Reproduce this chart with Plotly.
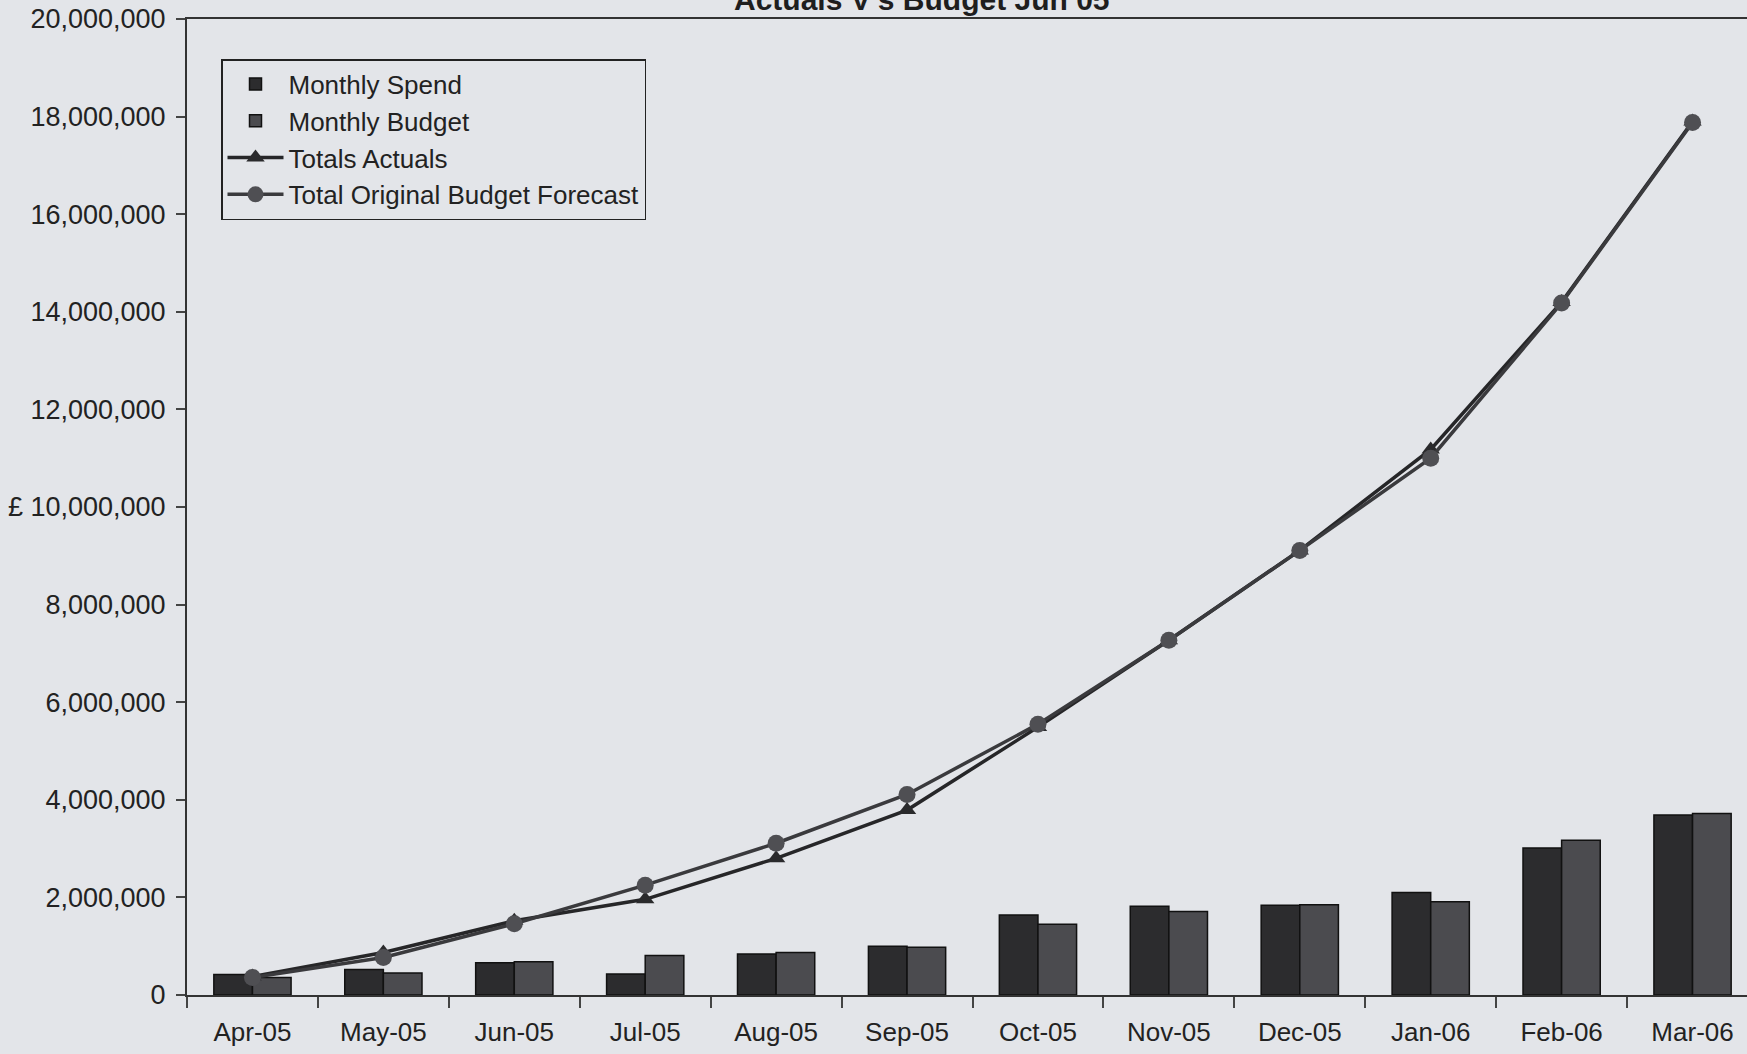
import plotly.graph_objects as go

months = ["Apr-05", "May-05", "Jun-05", "Jul-05", "Aug-05", "Sep-05",
          "Oct-05", "Nov-05", "Dec-05", "Jan-06", "Feb-06", "Mar-06"]

monthly_spend = [420000, 520000, 660000, 430000, 840000, 1000000,
                 1640000, 1820000, 1840000, 2100000, 3010000, 3690000]
monthly_budget = [360000, 450000, 680000, 810000, 870000, 980000,
                  1450000, 1710000, 1850000, 1910000, 3170000, 3720000]
totals_actuals = [380000, 870000, 1520000, 1960000, 2800000, 3790000,
                  5490000, 7270000, 9110000, 11180000, 14200000, 17900000]
total_budget_forecast = [360000, 770000, 1460000, 2250000, 3110000, 4110000,
                         5550000, 7270000, 9110000, 11000000, 14180000, 17880000]

y_tickvals = [0, 2000000, 4000000, 6000000, 8000000, 10000000,
              12000000, 14000000, 16000000, 18000000, 20000000]
y_ticktext = ["0", "2,000,000", "4,000,000", "6,000,000", "8,000,000", "£ 10,000,000",
              "12,000,000", "14,000,000", "16,000,000", "18,000,000", "20,000,000"]

title_text = "Actuals V's Budget Jun 05"

FONT = "Liberation Sans, Arial, sans-serif"
BG = "#e3e5e9"

fig = go.Figure()
fig.add_trace(go.Bar(x=months, y=monthly_spend, name="Monthly Spend", legendgroup="a",
                     marker=dict(color="#2c2c2e", line=dict(color="#111", width=1.5))))
fig.add_trace(go.Bar(x=months, y=monthly_budget, name="Monthly Budget", legendgroup="b",
                     marker=dict(color="#4b4b4f", line=dict(color="#111", width=1.5))))
fig.add_trace(go.Scatter(x=months, y=totals_actuals, name="Totals Actuals", legendgroup="c",
                         mode="lines+markers",
                         line=dict(color="#262628", width=3.5),
                         marker=dict(symbol="triangle-up", size=16, color="#2a2a2c")))
fig.add_trace(go.Scatter(x=months, y=total_budget_forecast, name="Total Original Budget Forecast",
                         legendgroup="d", mode="lines+markers",
                         line=dict(color="#3a3a3d", width=3.5),
                         marker=dict(symbol="circle", size=17, color="#4f4f53")))

fig.add_annotation(text="<b>" + title_text + "</b>", xref="paper", yref="paper",
                   x=(922 - 187) / 1560, y=1 + 19 / 976, xanchor="center", yanchor="middle",
                   showarrow=False, font=dict(family=FONT, size=30, color="#1e1e1e"))

fig.update_layout(
    width=1747, height=1054,
    margin=dict(l=187, r=0, t=19, b=59),
    paper_bgcolor=BG, plot_bgcolor=BG,
    font=dict(family=FONT, size=26, color="#222"),
    barmode="group", bargap=0.41, bargroupgap=0,
    showlegend=True,
    legend=dict(x=(221 - 187) / 1560, y=(995 - 59) / 976, xanchor="left", yanchor="top",
                bgcolor="rgba(0,0,0,0)", bordercolor="#222", borderwidth=1.5,
                font=dict(family=FONT, size=26, color="#222"),
                tracegroupgap=2, itemwidth=56, traceorder="normal"),
    xaxis=dict(range=[-0.5, 11.416], showline=True, linecolor="#333", linewidth=2,
               mirror=True, ticks="outside", ticklen=11, tickcolor="#444", tickwidth=1.5,
               tickson="boundaries", showgrid=False, zeroline=False,
               ticklabelstandoff=13,
               tickfont=dict(family=FONT, size=26, color="#222")),
    yaxis=dict(range=[0, 20000000], tickvals=y_tickvals, ticktext=y_ticktext,
               showline=True, linecolor="#333", linewidth=2, ticks="outside",
               ticklen=9, tickcolor="#444", tickwidth=1.5, showgrid=False,
               zeroline=False, ticklabelstandoff=5,
               tickfont=dict(family=FONT, size=27, color="#222")),
)

fig.write_html("out.html")
